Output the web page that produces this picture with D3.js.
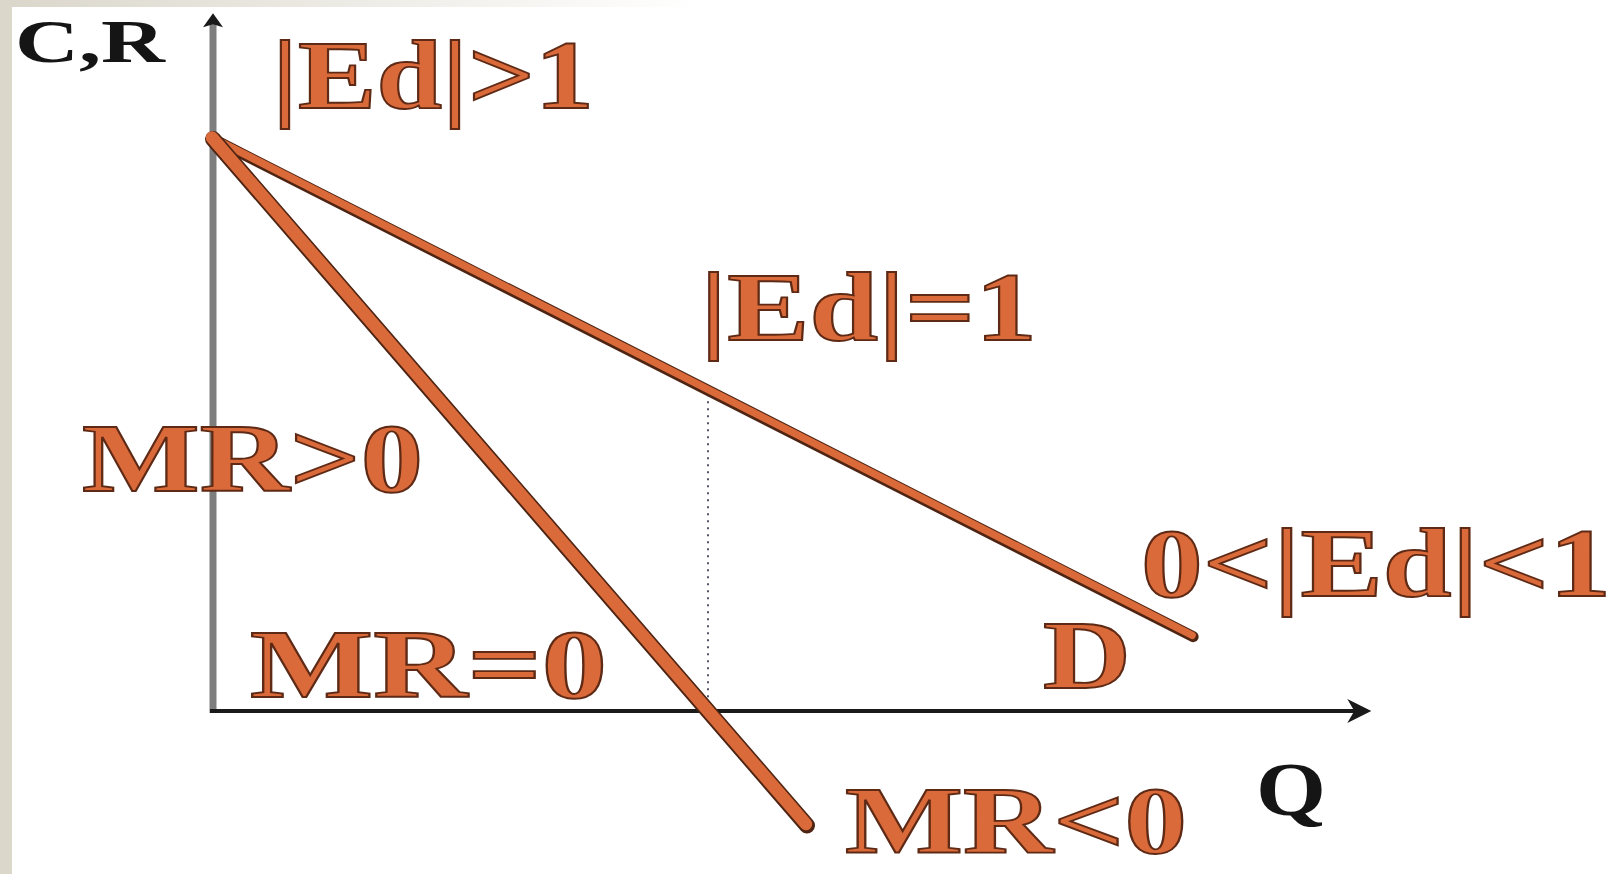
<!DOCTYPE html>
<html>
<head>
<meta charset="utf-8">
<script src="https://cdn.jsdelivr.net/npm/d3@7/dist/d3.min.js"></script>
<style>
  html, body { margin: 0; padding: 0; background: #fff; overflow: hidden; }
</style>
</head>
<body>
<div id="chart"></div>
<script>
// Curves as (Q, P) pairs
const demandCurve = [[0, 10], [9.9, 1.3]]
const mrCurve = [[0, 10], [6.0, -2.0]]
const unitElasticQ = 5
const axisMaxQ = 11.7
const axisMaxP = 12.2

const axisTitles = ['C,R', 'Q']
const regionLabels = ['|Ed|>1', '|Ed|=1', '0<|Ed|<1', 'MR>0', 'MR=0', 'MR<0', 'D']

const W = 1612, H = 874
const FONT = '"Liberation Serif", "Times New Roman", serif'
const ORANGE = '#da6a3a'
const BROWN = '#4e2413'

// label layout: left x, baseline y, stretched width, font size
const labelLayout = {
  'C,R':      { x: 15,   y: 62,  w: 150, size: 62, fill: '#151515', stroke: 'none' },
  'Q':        { x: 1256, y: 815, w: 70,  size: 76, fill: '#151515', stroke: 'none' },
  '|Ed|>1':   { x: 272,  y: 108, w: 322, size: 98 },
  '|Ed|=1':   { x: 700,  y: 340, w: 337, size: 98 },
  '0<|Ed|<1': { x: 1141, y: 596, w: 470, size: 98 },
  'MR>0':     { x: 82,   y: 491, w: 341, size: 98 },
  'MR=0':     { x: 250,  y: 697, w: 357, size: 98 },
  'MR<0':     { x: 845,  y: 853, w: 342, size: 95 },
  'D':        { x: 1043, y: 688, w: 88,  size: 98 }
}

const x = d3.scaleLinear().domain([0, unitElasticQ]).range([213, 708])
const y = d3.scaleLinear().domain([0, 10]).range([711, 139])

const svg = d3.select('#chart').append('svg')
  .attr('width', W).attr('height', H)
  .attr('viewBox', `0 0 ${W} ${H}`)

// slide frame: beige strips top and left
const defs = svg.append('defs')
const grad = defs.append('linearGradient').attr('id', 'topfade')
  .attr('x1', '0').attr('x2', '1').attr('y1', '0').attr('y2', '0')
grad.append('stop').attr('offset', '0').attr('stop-color', '#dad6ca')
grad.append('stop').attr('offset', '0.25').attr('stop-color', '#e4e1d8')
grad.append('stop').attr('offset', '1').attr('stop-color', '#ffffff')

svg.append('rect').attr('width', W).attr('height', H).attr('fill', '#fff')
svg.append('rect').attr('x', 0).attr('y', 0).attr('width', 700).attr('height', 7).attr('fill', 'url(#topfade)')
svg.append('rect').attr('x', 0).attr('y', 0).attr('width', 12).attr('height', H).attr('fill', '#dbd7cb')

const x0 = x(0), y0 = y(0)

// Y axis (grey) with black arrow head
const yTop = y(axisMaxP)
svg.append('line')
  .attr('x1', x0).attr('x2', x0).attr('y1', y0 + 2).attr('y2', yTop + 8)
  .attr('stroke', '#7e7e7e').attr('stroke-width', 7)
svg.append('path')
  .attr('d', `M${x0},${yTop} L${x0 + 10},${yTop + 14} L${x0},${yTop + 11} L${x0 - 10},${yTop + 14} Z`)
  .attr('fill', '#1a1a1a')

// X axis (black) with arrow head
const xEnd = x(axisMaxQ)
svg.append('line')
  .attr('x1', x0 - 3).attr('x2', xEnd - 4).attr('y1', y0).attr('y2', y0)
  .attr('stroke', '#1a1a1a').attr('stroke-width', 4)
svg.append('path')
  .attr('d', `M${xEnd},${y0} L${xEnd - 24},${y0 - 12} L${xEnd - 17},${y0} L${xEnd - 24},${y0 + 12} Z`)
  .attr('fill', '#1a1a1a')

// dotted drop line at unit elasticity
const slopeD = (demandCurve[1][1] - demandCurve[0][1]) / (demandCurve[1][0] - demandCurve[0][0])
const pUnit = demandCurve[0][1] + slopeD * unitElasticQ
svg.append('line')
  .attr('x1', x(unitElasticQ)).attr('x2', x(unitElasticQ))
  .attr('y1', y(pUnit) + 4).attr('y2', y0 - 2)
  .attr('stroke', '#55556a').attr('stroke-width', 2)
  .attr('stroke-dasharray', '2,5')

const line = d3.line().x(d => x(d[0])).y(d => y(d[1]))

function drawCurve(pts, w) {
  svg.append('path').attr('d', line(pts))
    .attr('fill', 'none').attr('stroke', BROWN)
    .attr('stroke-width', w).attr('stroke-linecap', 'round')
  svg.append('path').attr('d', line(pts))
    .attr('transform', 'translate(-1,-1.4)')
    .attr('fill', 'none').attr('stroke', ORANGE)
    .attr('stroke-width', w - 3.5).attr('stroke-linecap', 'round')
}
drawCurve(demandCurve, 11)
drawCurve(mrCurve, 16)

// labels
const allLabels = axisTitles.concat(regionLabels)
svg.append('g').selectAll('text')
  .data(allLabels)
  .join('text')
  .attr('x', d => labelLayout[d].x)
  .attr('y', d => labelLayout[d].y)
  .attr('textLength', d => labelLayout[d].w)
  .attr('lengthAdjust', 'spacingAndGlyphs')
  .attr('font-family', FONT)
  .attr('font-weight', 'bold')
  .attr('font-size', d => labelLayout[d].size + 'px')
  .attr('fill', d => labelLayout[d].fill || ORANGE)
  .attr('stroke', d => labelLayout[d].stroke || '#5e2a15')
  .attr('stroke-width', 1.8)
  .text(d => d)
</script>
</body>
</html>
